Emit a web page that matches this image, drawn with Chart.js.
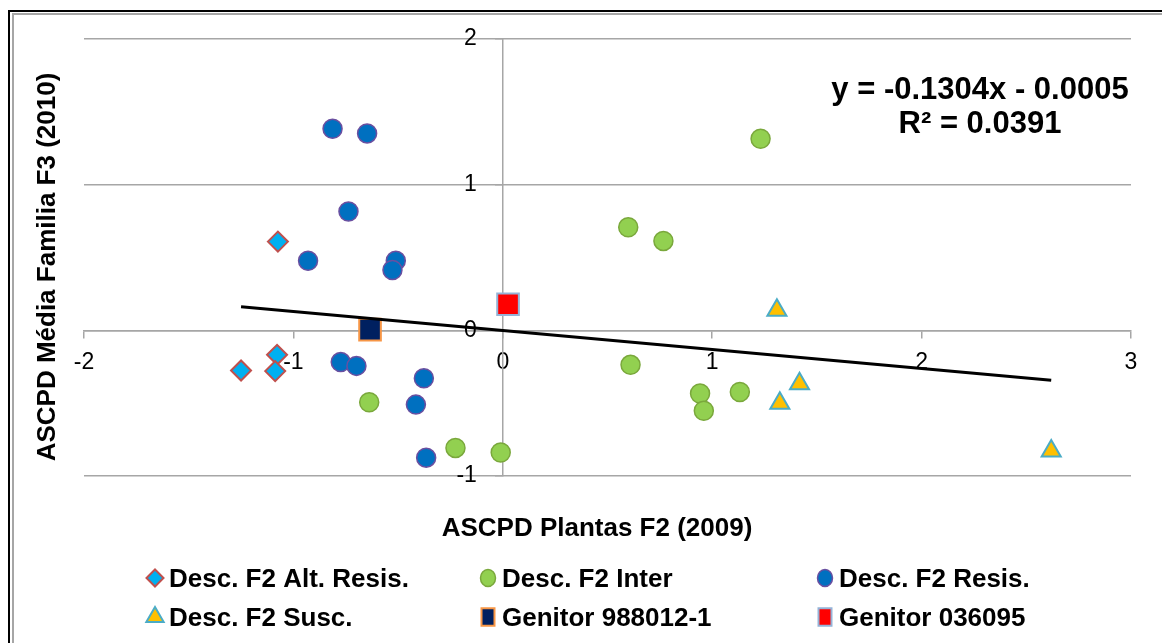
<!DOCTYPE html>
<html lang="pt">
<head>
<meta charset="utf-8">
<title>ASCPD F2 (2009) x F3 (2010)</title>
<script src="https://cdn.jsdelivr.net/npm/chart.js@4.4.1/dist/chart.umd.min.js"></script>
<style>
  html, body { margin: 0; padding: 0; background: #fff; }
  #frame { position: relative; width: 1162px; height: 643px; overflow: hidden; }
  .edge { position: absolute; right: -10px; bottom: -10px; }
  .edge.outer { left: 8px; top: 10px; border-top: 2px solid #000; border-left: 2px solid #000; }
  .edge.inner { left: 12px; top: 13px; border-top: 2px solid #a6a6a6; border-left: 2px solid #a6a6a6; }
  #scatterChart { position: absolute; left: 0; top: 0; }
</style>
</head>
<body>
<div id="frame">
  <div class="edge outer"></div>
  <div class="edge inner"></div>
  <canvas id="scatterChart" width="1162" height="643"></canvas>
</div>
<script>
// --- 1. DATA ---
const altResisX = [-1.074, -1.078, -1.087, -1.250];
const altResisY = [0.609, -0.168, -0.280, -0.276];

const interX = [-0.638, -0.226, -0.010, 1.231, 0.599, 0.767, 0.610, 0.942, 0.960, 1.132];
const interY = [-0.494, -0.807, -0.839, 1.315, 0.708, 0.614, -0.237, -0.434, -0.552, -0.423];

const resisX = [-0.813, -0.648, -0.737, -0.930, -0.511, -0.527, -0.774, -0.699, -0.377, -0.415, -0.366];
const resisY = [1.384, 1.352, 0.816, 0.478, 0.478, 0.414, -0.218, -0.244, -0.329, -0.510, -0.874];

const suscX = [1.309, 1.417, 1.323, 2.619];
const suscY = [0.138, -0.366, -0.501, -0.828];

const genitor988X = [-0.634];
const genitor988Y = [0.005];

const genitor036X = [0.025];
const genitor036Y = [0.179];

const xTicks = [-2, -1, 0, 1, 2, 3];
const yTicks = [-1, 0, 1, 2];

const trendSlope = -0.1304;
const trendIntercept = -0.0005;
const rSquared = 0.0391;

const xTitle = 'ASCPD Plantas F2 (2009)';
const yTitle = 'ASCPD Média Familia F3 (2010)';

// --- 2. HELPERS ---
const FONT = "'Liberation Sans', Arial, Helvetica, sans-serif";
const GRID = '#a6a6a6';

const pairs = (xs, ys) => xs.map((x, i) => ({ x, y: ys[i] }));

// linear trend drawn over the x range of all the points
function trendPoints() {
    const allX = [].concat(altResisX, interX, resisX, suscX, genitor988X, genitor036X);
    const from = Math.min(...allX);
    const to = Math.max(...allX);
    return [from, to].map(x => ({ x, y: trendSlope * x + trendIntercept }));
}

function fixedTicks(values) {
    return scale => { scale.ticks = values.map(v => ({ value: v })); };
}

// --- 3. SERIES ---
const series = [
    { label: 'Desc. F2 Alt. Resis.', data: pairs(altResisX, altResisY), pointStyle: 'rectRot', pointRadius: 10,
      backgroundColor: '#00b0f0', borderColor: '#c0504d', borderWidth: 2, order: 6, legendW: 0, legendR: 8.5 },
    { label: 'Desc. F2 Inter', data: pairs(interX, interY), pointStyle: 'circle', pointRadius: 9.5,
      backgroundColor: '#92d050', borderColor: '#7aa83c', borderWidth: 1.5, order: 5, legendW: 15, legendR: 8.5 },
    { label: 'Desc. F2 Resis.', data: pairs(resisX, resisY), pointStyle: 'circle', pointRadius: 9.5,
      backgroundColor: '#0070c0', borderColor: '#6a4fa0', borderWidth: 1.5, order: 4, legendW: 15, legendR: 8.5 },
    { label: 'Desc. F2 Susc.', data: pairs(suscX, suscY), pointStyle: 'triangle', pointRadius: 11,
      backgroundColor: '#ffc000', borderColor: '#4bacc6', borderWidth: 2, order: 3, legendW: 0, legendR: 10 },
    { label: 'Genitor 988012-1', data: pairs(genitor988X, genitor988Y), pointStyle: 'rect', pointRadius: 15.3,
      backgroundColor: '#002060', borderColor: '#f79646', borderWidth: 2, order: 2, legendW: 13, legendR: 12.5 },
    { label: 'Genitor 036095', data: pairs(genitor036X, genitor036Y), pointStyle: 'rect', pointRadius: 15.3,
      backgroundColor: '#ff0000', borderColor: '#95b3d7', borderWidth: 2, order: 1, legendW: 13, legendR: 12.5 }
];

series.forEach(s => { s.pointHoverRadius = s.pointRadius; });

const trendDataset = {
    label: 'trend', data: trendPoints(), showLine: true, pointRadius: 0,
    borderColor: '#000', borderWidth: 3, order: 0, fill: false
};

// --- 4. TEXT: TITLES, EQUATION, LEGEND ---
const legendCols = [155, 488, 825];
const legendRows = [587, 626];

const annotations = {
    id: 'annotations',
    afterDraw(chart) {
        const ctx = chart.ctx;
        ctx.save();
        ctx.fillStyle = '#000';
        ctx.textBaseline = 'alphabetic';

        // axis titles
        ctx.font = `bold 26px ${FONT}`;
        ctx.textAlign = 'center';
        ctx.fillText(xTitle, 597, 536);

        ctx.save();
        ctx.translate(55, 267);
        ctx.rotate(-Math.PI / 2);
        ctx.fillText(yTitle, 0, 0);
        ctx.restore();

        // regression equation
        const sign = trendIntercept < 0 ? '-' : '+';
        ctx.font = `bold 31px ${FONT}`;
        ctx.fillText(`y = ${trendSlope.toFixed(4)}x ${sign} ${Math.abs(trendIntercept).toFixed(4)}`, 980, 99);
        ctx.fillText(`R² = ${rSquared.toFixed(4)}`, 980, 132.5);

        // legend, 3 columns x 2 rows
        ctx.font = `bold 26px ${FONT}`;
        ctx.textAlign = 'left';
        series.forEach((s, i) => {
            const cx = legendCols[i % 3];
            const base = legendRows[Math.floor(i / 3)];
            const cy = base - 9;
            ctx.fillStyle = s.backgroundColor;
            ctx.strokeStyle = s.borderColor;
            ctx.lineWidth = s.borderWidth;
            Chart.helpers.drawPointLegend(ctx, {
                pointStyle: s.pointStyle, radius: s.legendR, borderWidth: s.borderWidth, rotation: 0
            }, cx, cy, s.legendW || undefined);
            ctx.fillStyle = '#000';
            ctx.fillText(s.label, cx + 14, base);
        });
        ctx.restore();
    }
};

// --- 5. CHART ---
const tickFont = { family: FONT, size: 23 };

new Chart(document.getElementById('scatterChart'), {
    type: 'scatter',
    data: { datasets: [trendDataset, ...series] },
    options: {
        responsive: false,
        animation: false,
        events: [],
        layout: { padding: { left: 84, right: 31, top: 39, bottom: 167 } },
        plugins: { legend: { display: false }, tooltip: { enabled: false } },
        scales: {
            x: {
                type: 'linear', min: -2, max: 3, position: { y: 0 },
                afterBuildTicks: fixedTicks(xTicks),
                afterFit: s => { s.paddingLeft = 0; s.paddingRight = 0; },
                grid: { drawOnChartArea: false, drawTicks: true, tickLength: 7, color: GRID, lineWidth: 1.5 },
                border: { display: true, color: GRID, width: 1.5 },
                ticks: { padding: 12, color: '#000', font: tickFont, maxRotation: 0, autoSkip: false }
            },
            // tick labels and horizontal grid lines, set back from the vertical axis
            y: {
                type: 'linear', min: -1, max: 2, position: { x: -0.124 },
                afterBuildTicks: fixedTicks(yTicks),
                afterFit: s => { s.paddingTop = 0; s.paddingBottom = 0; },
                grid: { color: GRID, lineWidth: 1.5, drawTicks: false },
                border: { display: false },
                ticks: { padding: 0, color: '#000', font: tickFont }
            },
            // the vertical axis line at x = 0 with its tick marks
            yAxisLine: {
                axis: 'y', type: 'linear', min: -1, max: 2, position: { x: 0 },
                afterBuildTicks: fixedTicks(yTicks),
                afterFit: s => { s.paddingTop = 0; s.paddingBottom = 0; },
                grid: { drawOnChartArea: false, drawTicks: true, tickLength: 7, color: GRID, lineWidth: 1.5 },
                border: { display: true, color: GRID, width: 1.5 },
                ticks: { display: false }
            }
        }
    },
    plugins: [annotations]
});
</script>
</body>
</html>
